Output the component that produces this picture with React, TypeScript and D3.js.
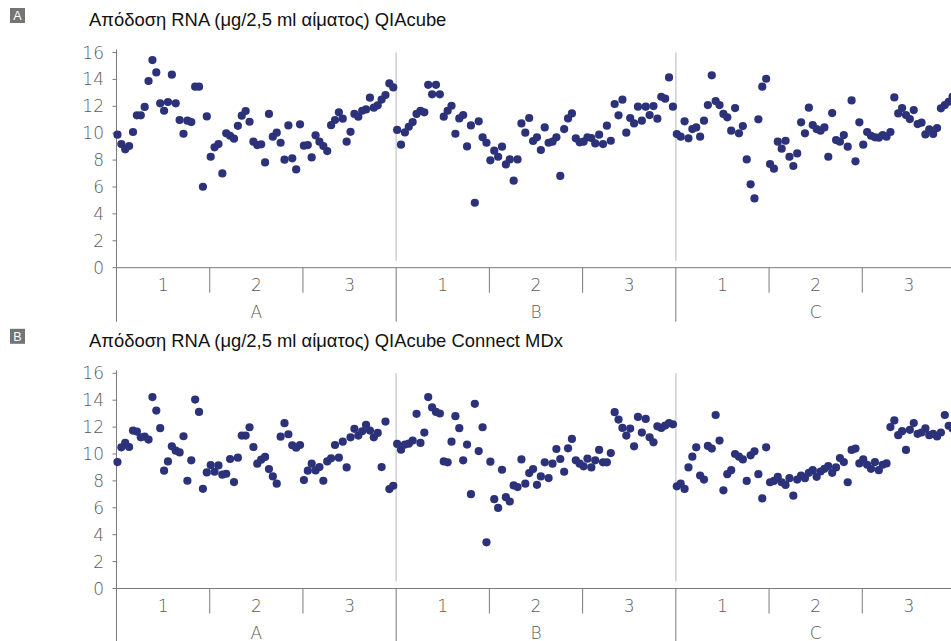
import React from "react";
import * as d3 from "d3";

// RNA yield (µg per 2.5 ml blood), 72 samples per donor group, 24 per run.
const groups = ["A", "B", "C"];
const runs = ["1", "2", "3"];
const yTicks = [0, 2, 4, 6, 8, 10, 12, 14, 16];
const samplesPerRun = 24;

const qiacubeA = [
  9.89, 9.19, 8.8, 9.05, 10.09, 11.33, 11.33, 11.95, 13.88, 15.44,
  14.52, 12.22, 11.67, 12.32, 14.35, 12.22, 10.98, 9.96, 10.93, 10.83,
  13.46, 13.46, 6.02, 11.25, 8.25, 8.95, 9.19, 7.01, 9.99, 9.81,
  9.59, 10.55, 11.3, 11.65, 10.85, 9.37, 9.12, 9.17, 7.83, 11.43,
  9.74, 10.04, 9.29, 8.03, 10.58, 8.13, 7.31, 10.66, 9.07, 9.12,
  8.2, 9.84, 9.37, 9.05, 8.67, 10.6, 10.98, 11.55, 11.08, 9.37,
  10.1, 11.43, 11.23, 11.67, 11.77, 12.64, 11.9, 12.07, 12.5, 12.84,
  13.7, 13.4,
];
const qiacubeB = [
  10.24, 9.15, 10.06, 10.48, 10.83, 11.43, 11.67, 11.55, 13.6, 12.89,
  13.6, 12.89, 11.23, 11.67, 12.04, 9.96, 11.1, 11.35, 9.02, 10.58,
  4.83, 10.88, 9.69, 9.29, 7.98, 8.7, 8.25, 9.0, 7.68, 8.05,
  6.47, 8.05, 10.73, 10.04, 11.13, 9.42, 9.69, 8.75, 10.43, 9.29,
  9.37, 9.69, 6.82, 10.31, 11.1, 11.47, 9.62, 9.32, 9.37, 9.69,
  9.64, 9.24, 9.89, 9.19, 10.56, 9.44, 12.17, 11.33, 12.49, 10.04,
  11.13, 10.73, 11.97, 10.93, 11.97, 11.35, 12.02, 11.08, 12.71, 12.57,
  14.15, 11.97,
];
const qiacubeC = [
  9.94, 9.74, 10.88, 9.62, 10.31, 10.43, 9.74, 10.93, 12.09, 14.3,
  12.39, 12.09, 11.43, 11.18, 10.19, 11.87, 9.99, 10.53, 8.05, 6.2,
  5.15, 11.03, 13.46, 14.05, 7.71, 7.36, 9.37, 8.85, 9.44, 8.25,
  7.56, 8.5, 10.81, 9.99, 11.9, 10.61, 10.31, 10.19, 10.43, 8.25,
  11.5, 9.49, 9.37, 9.86, 9.0, 12.44, 7.91, 10.81, 9.15, 10.09,
  9.81, 9.69, 9.67, 9.86, 9.74, 10.09, 12.66, 11.47, 11.87, 11.35,
  11.05, 11.72, 10.68, 10.78, 9.91, 10.29, 9.94, 10.38, 11.85, 12.09,
  12.34, 12.71,
];

const connectA = [
  9.4, 10.5, 10.82, 10.52, 11.74, 11.67, 11.24, 11.29, 11.07, 14.23,
  13.23, 11.92, 8.76, 9.45, 10.57, 10.25, 10.12, 11.32, 8.01, 9.53,
  14.05, 13.13, 7.41, 8.63, 9.18, 8.68, 9.15, 8.46, 8.53, 9.63,
  7.91, 9.73, 11.37, 11.37, 11.99, 10.52, 9.28, 9.58, 9.78, 8.88,
  8.33, 7.79, 11.29, 12.29, 11.47, 10.65, 10.47, 10.67, 8.06, 8.76,
  9.28, 8.78, 9.03, 8.01, 9.45, 9.68, 10.67, 9.73, 10.92, 9.0,
  11.24, 11.87, 11.37, 11.69, 12.16, 11.74, 11.24, 11.57, 9.03, 12.41,
  7.39, 7.64,
];
const connectB = [
  10.75, 10.32, 10.7, 10.77, 11.0, 12.99, 10.82, 11.59, 14.23, 13.46,
  13.13, 13.01, 9.45, 9.38, 10.92, 12.81, 11.92, 9.53, 10.7, 7.01,
  13.73, 10.22, 11.99, 3.43, 9.43, 6.64, 6.0, 8.83, 6.79, 6.47,
  7.66, 7.54, 9.6, 7.79, 8.58, 8.88, 7.71, 8.33, 9.38, 8.21,
  9.28, 10.37, 9.63, 8.68, 10.42, 11.12, 9.53, 9.28, 9.08, 9.65,
  9.0, 9.53, 10.3, 9.38, 9.38, 10.07, 13.11, 12.56, 11.94, 11.37,
  11.89, 10.57, 12.76, 11.59, 12.61, 11.24, 10.87, 12.06, 11.94, 12.11,
  12.29, 12.21,
];
const connectC = [
  7.6, 7.8, 7.4, 9.0, 9.8, 10.5, 8.4, 8.1, 10.6, 10.4,
  12.9, 11.0, 7.3, 8.5, 8.8, 10.0, 9.8, 9.6, 8.0, 9.9,
  10.2, 8.5, 6.7, 10.5, 7.9, 8.0, 8.3, 7.9, 7.7, 8.2,
  6.9, 8.1, 8.4, 8.2, 8.6, 8.8, 8.3, 8.7, 8.9, 9.1,
  8.6, 9.0, 9.7, 9.4, 7.9, 10.3, 10.4, 9.3, 9.6, 9.2,
  8.9, 9.4, 8.8, 9.2, 9.3, 12.0, 12.5, 11.4, 11.7, 10.3,
  11.8, 12.3, 11.5, 11.6, 11.9, 11.4, 11.5, 11.3, 11.6, 12.9,
  12.1, 11.9,
];

const panels = [
  {
    tag: "A",
    title: "Απόδοση RNA (μg/2,5 ml αίματος) QIAcube",
    series: [qiacubeA, qiacubeB, qiacubeC],
    offset: 0,
  },
  {
    tag: "B",
    title: "Απόδοση RNA (μg/2,5 ml αίματος) QIAcube Connect MDx",
    series: [connectA, connectB, connectC],
    offset: 320.8,
  },
];

const W = 951;
const H = 641;
const DOT = "#2c327a";
const AXIS = "#7a7a7a";
const LABEL = "#5a5a5a";
const tickFont = "'DejaVu Sans', sans-serif";
const titleFont = "'Liberation Sans', Arial, sans-serif";

// x runs over the nine runs (3 groups × 3 runs)
const xRun = d3.scaleLinear().domain([0, groups.length * runs.length]).range([116.5, 955.5]);

function Panel({ p }: { p: (typeof panels)[number] }) {
  const y = d3.scaleLinear().domain([0, 16]).range([267.7 + p.offset, 52.5 + p.offset]);
  const y0 = y(0);
  const perGroup = samplesPerRun * runs.length;
  const points = p.series.flatMap((vals, g) =>
    vals.map((v, i) => ({ k: g * perGroup + i, v }))
  );
  const runBounds = d3.range(0, groups.length * runs.length + 1);
  return (
    <g>
      <rect x={10} y={8 + p.offset} width={15} height={15} fill="#747474" />
      <text
        x={17.5}
        y={16 + p.offset}
        fill="#fff"
        fontSize={12.5}
        fontFamily={titleFont}
        textAnchor="middle"
        dominantBaseline="central"
      >
        {p.tag}
      </text>
      <text x={89} y={26 + p.offset} fill="#111" fontSize={18.4} fontFamily={titleFont}>
        {p.title}
      </text>

      {/* group separators inside the plot */}
      {[3, 6].map((j) => (
        <line
          key={"sep" + j}
          x1={xRun(j)}
          x2={xRun(j)}
          y1={y(16)}
          y2={y0 - 7}
          stroke="#cfcfcf"
          strokeWidth={1.5}
        />
      ))}

      {/* y axis */}
      <line x1={xRun(0)} x2={xRun(0)} y1={y(16) - 3} y2={y0} stroke={AXIS} />
      {yTicks.map((t) => (
        <g key={"yt" + t}>
          <line x1={xRun(0) - 4} x2={xRun(0)} y1={y(t)} y2={y(t)} stroke={AXIS} />
          <text
            x={104}
            y={y(t)}
            textAnchor="end"
            dominantBaseline="central"
            fontSize={17}
            fontWeight={200}
            fontFamily={tickFont}
            fill={LABEL}
          >
            {t}
          </text>
        </g>
      ))}

      {/* x axis with run and group divisions */}
      <line x1={xRun(0)} x2={xRun(9)} y1={y0} y2={y0} stroke={AXIS} />
      {runBounds.map((j) => (
        <line
          key={"xt" + j}
          x1={xRun(j)}
          x2={xRun(j)}
          y1={y0}
          y2={y0 + (j % 3 === 0 ? 54 : 25)}
          stroke={AXIS}
        />
      ))}
      {groups.map((g, gi) =>
        runs.map((r, ri) => (
          <text
            key={g + r}
            x={xRun(gi * 3 + ri + 0.5)}
            y={y0 + 17}
            textAnchor="middle"
            dominantBaseline="central"
            fontSize={17}
            fontWeight={200}
            fontFamily={tickFont}
            fill={LABEL}
          >
            {r}
          </text>
        ))
      )}
      {groups.map((g, gi) => (
        <text
          key={"g" + g}
          x={xRun(gi * 3 + 1.5)}
          y={y0 + 44}
          textAnchor="middle"
          dominantBaseline="central"
          fontSize={17}
          fontWeight={200}
          fontFamily={tickFont}
          fill={LABEL}
        >
          {g}
        </text>
      ))}

      {/* samples */}
      {points.map((d) => (
        <circle
          key={d.k}
          cx={xRun((d.k + 0.25) / samplesPerRun)}
          cy={y(d.v)}
          r={4.1}
          fill={DOT}
        />
      ))}
    </g>
  );
}

export default function App() {
  return (
    <svg
      width={W}
      height={H}
      viewBox={`0 0 ${W} ${H}`}
      style={{ position: "absolute", left: 0, top: 0, background: "#fff" }}
    >
      <rect width={W} height={H} fill="#fff" />
      {panels.map((p) => (
        <Panel key={p.tag} p={p} />
      ))}
    </svg>
  );
}
